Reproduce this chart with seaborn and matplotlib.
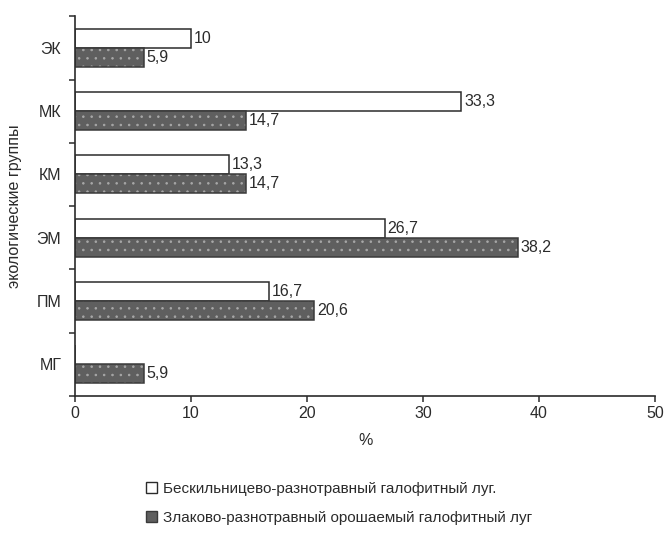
import matplotlib
matplotlib.use("Agg")
import matplotlib.pyplot as plt
import matplotlib.colors as mcolors
from matplotlib.patches import Patch
import numpy as np
import pandas as pd
import seaborn as sns

# Ecological groups and the share (%) of species in each group for the two meadows
groups = ["ЭК", "МК", "КМ", "ЭМ", "ПМ", "МГ"]
meadow_a = [10.0, 33.3, 13.3, 26.7, 16.7, 0.0]
meadow_b = [5.9, 14.7, 14.7, 38.2, 20.6, 5.9]
series_names = [
    "Бескильницево-разнотравный галофитный луг.",
    "Злаково-разнотравный орошаемый галофитный луг",
]
x_ticks = [0, 10, 20, 30, 40, 50]

df = pd.DataFrame({
    "group": groups * 2,
    "value": meadow_a + meadow_b,
    "series": [series_names[0]] * len(groups) + [series_names[1]] * len(groups),
})

sns.set_theme(style="white")
plt.rcParams["font.family"] = ["Liberation Sans", "DejaVu Sans"]
ink = "#2b2b2b"
plt.rcParams["text.color"] = ink
plt.rcParams["axes.labelcolor"] = ink
plt.rcParams["xtick.color"] = ink
plt.rcParams["ytick.color"] = ink
plt.rcParams["hatch.linewidth"] = 0.6

fig = plt.figure(figsize=(6.65, 5.43), dpi=100)
ax = fig.add_axes([0.113, 0.271, 0.872, 0.699])

light_fill = "#ffffff"
dark_fill = "#5f5f5f"
sns.barplot(
    data=df, y="group", x="value", hue="series", order=groups,
    hue_order=series_names, palette=[light_fill, dark_fill],
    orient="h", width=0.6, gap=0.0, ax=ax, legend=False,
    edgecolor=ink, linewidth=1.1, saturation=1.0,
)

dot_rgba = mcolors.to_rgba("#a8a8a8")
for i, (cont, vals) in enumerate(zip(ax.containers, [meadow_a, meadow_b])):
    if i == 1:
        for p in cont.patches:
            p.set_hatch("..")
            p.set_edgecolor("#3a3a3a")
            if hasattr(p, "set_hatchcolor"):
                p.set_hatchcolor(dot_rgba)
            else:
                p._hatch_color = dot_rgba
    labels = [f"{v:g}".replace(".", ",") if v > 0 else "" for v in vals]
    ax.bar_label(cont, labels=labels, padding=2, fontsize=11.5, color=ink)

ax.set_xlim(0, 50)
ax.set_ylim(len(groups) - 0.5, -0.5)
ax.set_xticks(x_ticks)
ax.set_xticklabels([str(t) for t in x_ticks], fontsize=11.5)
ax.set_yticks(range(len(groups)))
ax.set_yticklabels(groups, fontsize=11.5)
ax.set_yticks(np.arange(-0.5, len(groups), 1.0), minor=True)
ax.tick_params(axis="y", which="major", length=0, pad=10)
ax.tick_params(axis="y", which="minor", length=4, width=1.1, direction="out", left=True)
ax.tick_params(axis="x", which="major", length=4, width=1.1, direction="out", bottom=True, pad=3)

ax.set_xlabel("%", fontsize=11.5, labelpad=9)
ax.set_ylabel("экологические группы", fontsize=11.5, labelpad=10)

sns.despine(ax=ax)
for side in ("left", "bottom"):
    ax.spines[side].set_color(ink)
    ax.spines[side].set_linewidth(1.2)

handles = [
    Patch(facecolor=light_fill, edgecolor=ink, linewidth=1.0),
    Patch(facecolor=dark_fill, edgecolor="#3a3a3a", linewidth=1.0),
]
fig.legend(
    handles, series_names, loc="upper left",
    bbox_to_anchor=(0.22, 0.113), frameon=False, fontsize=11,
    handlelength=0.7, handleheight=0.7, handletextpad=0.4, labelspacing=1.0,
    borderaxespad=0, borderpad=0,
)

fig.savefig("out.png", dpi=100, facecolor="white")
